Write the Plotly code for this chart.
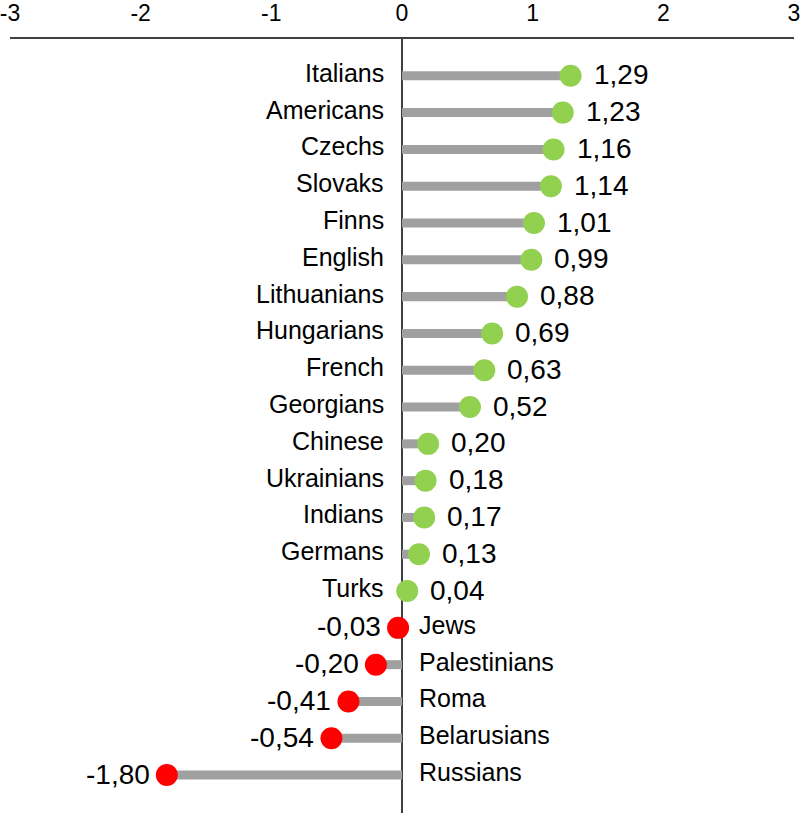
import plotly.graph_objects as go

names = ["Italians", "Americans", "Czechs", "Slovaks", "Finns", "English", "Lithuanians",
         "Hungarians", "French", "Georgians", "Chinese", "Ukrainians", "Indians", "Germans",
         "Turks", "Jews", "Palestinians", "Roma", "Belarusians", "Russians"]
values = [1.29, 1.23, 1.16, 1.14, 1.01, 0.99, 0.88, 0.69, 0.63, 0.52, 0.20, 0.18, 0.17,
          0.13, 0.04, -0.03, -0.20, -0.41, -0.54, -1.80]
tick_vals = [-3, -2, -1, 0, 1, 2, 3]
tick_text = ["-3", "-2", "-1", "0", "1", "2", "3"]

pos = list(range(len(names)))
GREEN = "#92d050"
RED = "#ff0000"
GRAY = "#a0a0a0"
AXIS = "#404040"
FONT = "Liberation Sans, Arial, sans-serif"

fig = go.Figure()
fig.add_trace(go.Bar(x=values, y=pos, orientation="h", width=0.245,
                     marker=dict(color=GRAY, line=dict(width=0)),
                     hoverinfo="skip"))
fig.add_trace(go.Scatter(x=values, y=pos, mode="markers",
                         marker=dict(size=22, color=[GREEN if v >= 0 else RED for v in values],
                                     line=dict(width=0)),
                         hoverinfo="skip"))

annotations = []
for n, v, p in zip(names, values, pos):
    lab = f"{v:.2f}".replace(".", ",")
    if v >= 0:
        annotations.append(dict(x=0, y=p, text=n, showarrow=False, xanchor="right",
                                xshift=-16, yshift=3, font=dict(size=25, color="black", family=FONT)))
        annotations.append(dict(x=v, y=p, text=lab, showarrow=False, xanchor="left",
                                xshift=21, yshift=1, font=dict(size=28, color="black", family=FONT)))
    else:
        annotations.append(dict(x=0, y=p, text=n, showarrow=False, xanchor="left",
                                xshift=15, yshift=3, font=dict(size=25, color="black", family=FONT)))
        annotations.append(dict(x=v, y=p, text=lab, showarrow=False, xanchor="right",
                                xshift=-15, yshift=1, font=dict(size=28, color="black", family=FONT)))

fig.update_layout(
    width=802, height=813,
    margin=dict(l=6, r=8, t=35, b=0),
    paper_bgcolor="white", plot_bgcolor="white",
    showlegend=False,
    annotations=annotations,
    font=dict(family=FONT, color="black"),
    xaxis=dict(range=[-3, 3], side="top", tickvals=tick_vals, ticktext=tick_text,
               tickfont=dict(size=23, color="black", family=FONT),
               ticklabeloverflow="allow",
               showgrid=False, showline=True, linecolor=AXIS, linewidth=2,
               zeroline=True, zerolinecolor=AXIS, zerolinewidth=2,
               ticks="outside", ticklen=7, tickcolor="rgba(0,0,0,0)", fixedrange=True),
    yaxis=dict(range=[20.03, -1], visible=False, fixedrange=True),
)

fig.write_html("out.html", post_script="document.body.style.margin='0';",
               config={"displayModeBar": False})
